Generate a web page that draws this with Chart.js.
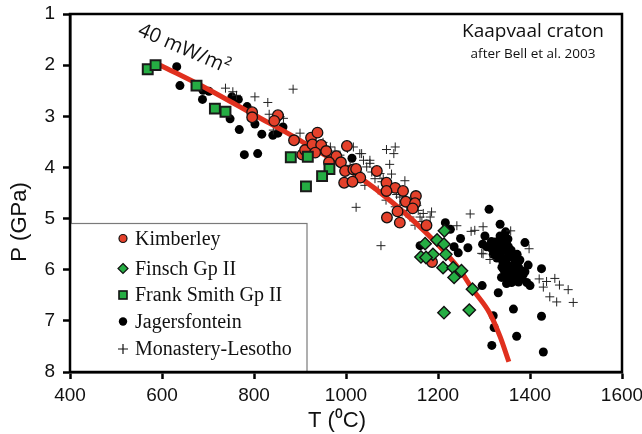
<!DOCTYPE html>
<html><head><meta charset="utf-8">
<script src="https://cdn.jsdelivr.net/npm/chart.js@4"></script>
<style>html,body{margin:0;padding:0;background:#fff}</style>
</head><body>
<canvas id="c" width="642" height="434"></canvas>
<script>
// ---- data (T in °C, P in GPa) ----
const seriesNames = ['Kimberley','Finsch Gp II','Frank Smith Gp II','Jagersfontein','Monastery-Lesotho'];
const kimberley = [[796,2.92],[796,3.02],[852,2.98],[844,3.09],[887,3.47],[905,3.75],[911,3.66],[924,3.42],[938,3.32],[927,3.55],[946,3.56],[957,3.68],[933,3.71],[1002,3.58],[979,3.78],[989,3.90],[963,3.90],[998,4.07],[1016,4.04],[1022,4.03],[1031,4.20],[996,4.30],[1014,4.28],[1067,4.07],[1088,4.30],[1107,4.40],[1088,4.46],[1124,4.46],[1152,4.56],[1130,4.67],[1150,4.70],[1145,4.80],[1112,4.86],[1089,4.98],[1117,5.08],[1175,5.13],[1187,5.85]];
const finsch = [[1214,5.24],[1172,5.49],[1198,5.42],[1213,5.50],[1189,5.70],[1217,5.70],[1163,5.75],[1174,5.76],[1211,5.96],[1233,5.96],[1251,6.02],[1235,6.15],[1275,6.38],[1213,6.84],[1268,6.79]];
const frankSmith = [[569,2.08],[586,2.00],[675,2.40],[715,2.85],[738,2.91],[880,3.80],[917,3.79],[964,4.03],[948,4.17],[913,4.37]];
const jagersfontein = [[632,2.03],[639,2.40],[689,2.49],[702,2.51],[688,2.67],[748,3.05],[768,3.26],[802,3.15],[817,3.35],[779,3.75],[808,3.73],[841,3.37],[852,3.33],[863,3.21],[752,2.62],[766,2.67],[785,2.81],[1013,3.82],
 [1216,5.08],[1227,5.21],[1249,5.39],[1265,5.57],[1161,5.53],[1235,5.55],[1311,4.82],[1335,5.11],[1347,5.26],[1302,5.34],[1297,5.50],[1317,5.59],[1327,5.47],[1349,5.49],[1335,5.70],[1346,5.78],[1364,5.75],[1339,5.95],[1364,5.91],[1378,5.81],[1389,5.47],[1396,5.91],[1382,6.02],[1346,6.06],[1364,6.19],[1349,6.27],[1375,6.24],[1400,6.31],[1425,5.98],[1296,6.31],[1331,6.45],[1364,6.77],[1425,6.91],[1320,6.90],[1322,7.13],[1371,7.30],[1317,7.48],[1429,7.61],[1306,5.55],[1331,5.59],[1353,5.55],[1324,5.46],[1357,5.75],[1349,5.88],[1371,6.01],[1389,6.04],[1353,6.17],[1382,6.17],[1244,5.67],[1335,5.34],[1359,5.62],[1341,5.85],[1367,6.13],[1357,5.97],[1328,5.77],
 [1340,5.40],[1352,5.40],[1344,5.62],[1355,5.68],[1368,5.85],[1375,5.95],[1360,6.05],[1372,6.10],[1338,5.52],[1316,5.45],[1343,6.00],[1385,6.10],[1360,6.25],[1393,6.25],[1320,5.70],[1350,5.95],[1372,5.70],[1338,6.15]];
const monastery = [[738,2.45],[754,2.52],[762,2.59],[802,2.62],[830,2.73],[885,2.47],[833,2.96],[857,3.01],[864,3.04],[842,3.27],[900,3.33],[950,3.51],[966,3.60],[976,3.68],[1003,3.63],[1016,3.60],[1030,3.73],[1038,3.86],[1052,3.92],[1088,3.65],[1107,3.60],[1104,3.73],[1095,3.94],[1099,4.13],[1056,4.09],[1074,4.12],[1081,4.22],[1128,4.26],[1110,4.53],[1117,4.58],[1139,4.66],[1168,4.90],[1186,4.87],[1022,4.78],[1076,5.53],[1270,4.91],[1241,5.14],[1272,5.25],[1298,5.16],[1298,5.69],[1313,5.80],[1358,5.24],[1398,5.59],[1420,6.18],[1429,6.34],[1436,6.23],[1454,6.17],[1464,6.30],[1483,6.39],[1443,6.53],[1458,6.63],[1494,6.64],[1034,3.73],[1052,3.86],[1045,3.99],[1063,4.22],[1078,4.28],[1161,4.97],[1183,4.97],[1107,4.77],[1132,4.84],[1154,4.74],[1157,4.84],[1139,4.97],[1165,5.06],[1280,5.23],[1295,5.68],[987,3.76],[1009,3.96],[1026,4.09],[1041,4.35],[1070,4.44],[1087,4.64],[1117,4.74],[1122,4.87],[1150,5.13]];
const geothermT = [596,700,800,900,1023,1103,1190,1248,1275,1313,1335,1354];
const geothermP = [2.0,2.47,2.97,3.47,4.15,4.70,5.42,6.01,6.38,6.86,7.31,7.80];
const geothermLabel = '40 mW/m\u00B2';
const titleText = 'Kaapvaal craton';
const subtitleText = 'after Bell et al. 2003';
const xTitle = 'T (\u2070C)';
const yTitle = 'P (GPa)';

const pts = a => a.map(([x,y]) => ({x, y}));

const RED = '#e4412b', GREEN = '#25ad43';

const overlay = {
  id: 'overlay',
  afterDraw(chart) {
    const ctx = chart.ctx, a = chart.chartArea;
    ctx.save();
    // legend box
    const lx = a.left, ly = 223, lr = 307, lb = a.bottom;
    ctx.fillStyle = '#fff';
    ctx.fillRect(lx, ly, lr - lx, lb - ly);
    ctx.strokeStyle = '#7a7a7a'; ctx.lineWidth = 1.2;
    ctx.strokeRect(lx, ly + 0.5, lr - lx, lb - ly);
    const rows = [238.5, 268.5, 295, 321.5, 349];
    const mx = 123, tx = 135;
    ctx.font = '20px "Liberation Serif"';
    ctx.textAlign = 'left'; ctx.textBaseline = 'middle'; ctx.fillStyle = '#111';
    seriesNames.forEach((n, i) => ctx.fillText(n, tx, rows[i] + 1));
    // markers
    ctx.lineWidth = 1.2; ctx.strokeStyle = '#111';
    ctx.beginPath(); ctx.arc(mx, rows[0], 4, 0, Math.PI*2); ctx.fillStyle = RED; ctx.fill(); ctx.stroke();
    ctx.beginPath(); ctx.moveTo(mx, rows[1]-5); ctx.lineTo(mx+5, rows[1]); ctx.lineTo(mx, rows[1]+5); ctx.lineTo(mx-5, rows[1]); ctx.closePath();
    ctx.fillStyle = GREEN; ctx.fill(); ctx.stroke();
    ctx.lineWidth = 1.6;
    ctx.fillStyle = GREEN; ctx.fillRect(mx-4, rows[2]-4, 8, 8); ctx.strokeRect(mx-4, rows[2]-4, 8, 8);
    ctx.beginPath(); ctx.arc(mx, rows[3], 4.2, 0, Math.PI*2); ctx.fillStyle = '#000'; ctx.fill();
    ctx.lineWidth = 1.2;
    ctx.beginPath(); ctx.moveTo(mx-5, rows[4]); ctx.lineTo(mx+5, rows[4]); ctx.moveTo(mx, rows[4]-5); ctx.lineTo(mx, rows[4]+5); ctx.stroke();
    // frame
    ctx.strokeStyle = '#000'; ctx.lineWidth = 2.5;
    ctx.strokeRect(a.left, a.top, a.right - a.left, a.bottom - a.top);
    // texts
    ctx.fillStyle = '#111';
    ctx.textAlign = 'center'; ctx.textBaseline = 'alphabetic';
    ctx.font = '19px "Open Sans"';
    ctx.fillText(titleText, 533, 37);
    ctx.font = '13.5px "Open Sans"';
    ctx.fillText(subtitleText, 533, 58);
    ctx.font = '22px "Liberation Sans"';
    ctx.fillText(xTitle, 337, 427);
    ctx.save();
    ctx.translate(20, 222); ctx.rotate(-Math.PI/2);
    ctx.textBaseline = 'middle';
    ctx.fillText(yTitle, 0, 0);
    ctx.restore();
    ctx.save();
    ctx.translate(184, 49); ctx.rotate(23.5*Math.PI/180);
    ctx.font = '20px "Open Sans"'; ctx.textBaseline = 'middle';
    ctx.fillText(geothermLabel, 0, 0);
    ctx.restore();
    ctx.restore();
  }
};

const tickFont = {family: 'Liberation Sans', size: 19};
new Chart(document.getElementById('c'), {
  type: 'scatter',
  data: {
    datasets: [
      {label: seriesNames[1], data: pts(finsch), pointStyle: 'rectRot', pointRadius: 6.2, backgroundColor: GREEN, borderColor: '#111', borderWidth: 1.4},
      {label: seriesNames[2], data: pts(frankSmith), pointStyle: 'rect', pointRadius: 7, backgroundColor: GREEN, borderColor: '#1a1a1a', borderWidth: 2},
      {label: seriesNames[0], data: pts(kimberley), pointStyle: 'circle', pointRadius: 5.3, backgroundColor: RED, borderColor: '#111', borderWidth: 1.3},
      {label: geothermLabel, data: geothermT.map((t, i) => ({x: t, y: geothermP[i]})), showLine: true, borderColor: '#e0301e', borderWidth: 5, pointRadius: 0, cubicInterpolationMode: 'monotone', fill: false},
      {label: seriesNames[4], data: pts(monastery), pointStyle: 'cross', pointRadius: 4.5, borderColor: '#222', borderWidth: 1, backgroundColor: '#222'},
      {label: seriesNames[3], data: pts(jagersfontein), pointStyle: 'circle', pointRadius: 4.5, backgroundColor: '#000', borderWidth: 0}
    ]
  },
  options: {
    responsive: false, animation: false, devicePixelRatio: 1,
    layout: {padding: {top: 14, right: 20, left: 0, bottom: 0}},
    plugins: {legend: {display: false}, tooltip: {enabled: false}},
    scales: {
      x: {
        type: 'linear', min: 400, max: 1600,
        ticks: {stepSize: 200, font: tickFont, color: '#111', padding: 5, callback: v => String(v)},
        grid: {drawOnChartArea: false, drawTicks: true, tickLength: 7, tickWidth: 2.5, tickColor: '#000'},
        border: {display: true, width: 2.5, color: '#000'},
        afterFit: s => { s.height = 62; s.paddingLeft = 0; s.paddingRight = 0; }
      },
      y: {
        type: 'linear', min: 1, max: 8, reverse: true,
        ticks: {stepSize: 1, font: tickFont, color: '#111', padding: 8, callback: v => String(v)},
        grid: {drawOnChartArea: false, drawTicks: true, tickLength: 7, tickWidth: 2.5, tickColor: '#000'},
        border: {display: true, width: 2.5, color: '#000'},
        afterFit: s => { s.width = 70; s.paddingTop = 0; s.paddingBottom = 0; }
      }
    }
  },
  plugins: [overlay]
});
</script>
</body></html>
